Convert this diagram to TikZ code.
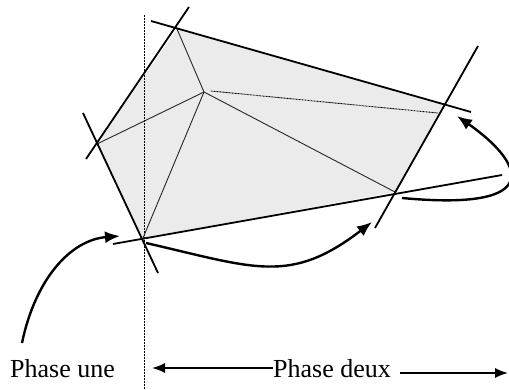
\documentclass[tikz,border=0pt]{standalone}
\usepackage{fontspec}
\setmainfont{Liberation Serif}
\usetikzlibrary{arrows.meta}
\definecolor{lightfill}{RGB}{235,235,235}
\tikzset{
  edge/.style={line width=1.8pt, black},
  inner/.style={line width=0.9pt, black!85},
  dotline/.style={line width=0.9pt, black, dash pattern=on 0.9pt off 0.6pt},
  curvearrow/.style={line width=2.4pt, -{Latex[length=15pt,width=12pt]}},
  labelarrow/.style={line width=1.6pt, -{Latex[length=13pt,width=10pt]}},
  lbl/.style={font=\fontsize{26}{30}\selectfont, inner sep=0pt, anchor=base west}
}
\begin{document}
\begin{tikzpicture}[x=1pt,y=-1pt]
\useasboundingbox (0,0) rectangle (509,390);
% polygon vertices
\coordinate (A) at (177,29);
\coordinate (B) at (97,144);
\coordinate (C) at (143,238);
\coordinate (D) at (395,192);
\coordinate (E) at (444,105);
\coordinate (F) at (204,92);
% shaded region
\fill[lightfill] (A) -- (E) -- (D) -- (C) -- (B) -- cycle;
% vertical divider
\coordinate (vt) at (144,15);
\coordinate (vb) at (144,390);
\draw[dotline] (vt) -- (vb);
% inner lines
\coordinate (Fe) at (211,91);
\coordinate (Ee) at (438,113);
\draw[inner] (F) -- (A);
\draw[inner] (F) -- (B);
\draw[inner] (F) -- (C);
\draw[inner] (F) -- (D);
\draw[dotline] (Fe) -- (Ee);
% extended edges
\coordinate (ab1) at (189,7);
\coordinate (ab2) at (86,159);
\coordinate (bc1) at (83,113);
\coordinate (bc2) at (158,273);
\coordinate (cd1) at (113,244);
\coordinate (cd2) at (502,175);
\coordinate (de1) at (375,228);
\coordinate (de2) at (478,46);
\coordinate (ae1) at (151,21);
\coordinate (ae2) at (471,112);
\draw[edge] (ab1) -- (ab2);
\draw[edge] (bc1) -- (bc2);
\draw[edge] (cd1) -- (cd2);
\draw[edge] (de1) -- (de2);
\draw[edge] (ae1) -- (ae2);
% curved arrows
\coordinate (s1) at (22,343);
\coordinate (t1) at (120,236);
\draw[curvearrow] (s1) .. controls (35,280) and (70,240) .. (t1);
\coordinate (s2) at (146,243);
\coordinate (t2) at (372,222);
\draw[curvearrow] (s2) .. controls (255,268) and (290,285) .. (t2);
\coordinate (s3) at (402,198);
\coordinate (t3) at (457,116);
\draw[curvearrow] (s3) .. controls (552,212) and (520,160) .. (t3);
% labels
\node[lbl] (p1) at (10,377) {Phase une};
\node[lbl] (p2) at (273,377) {Phase deux};
\coordinate (la) at (152,368);
\coordinate (ra) at (508,373);
\draw[labelarrow] (p2.west |- la) -- (la);
\draw[labelarrow] ([xshift=9pt]p2.east |- ra) -- (ra);
\end{tikzpicture}
\end{document}
